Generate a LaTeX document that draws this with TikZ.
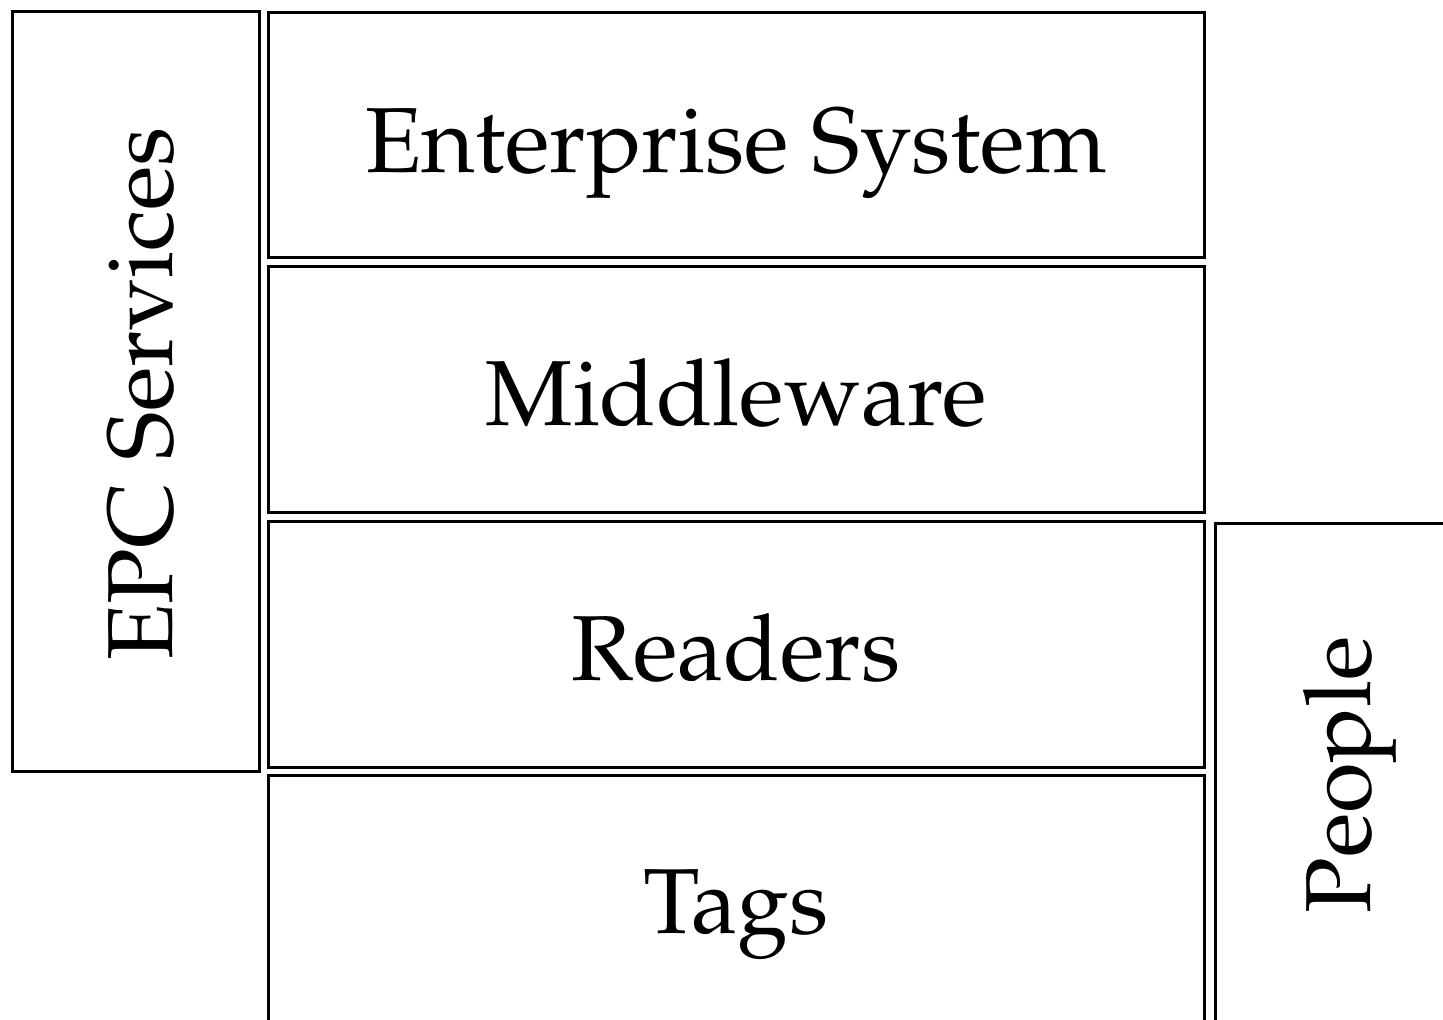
\documentclass[tikz,border=0pt]{standalone}
\usepackage[T1]{fontenc}
\usepackage{mathpazo}
\tikzset{
  layer/.style={draw=black, line width=1.5pt, inner sep=0pt, outer sep=0pt, anchor=north west},
  lbl/.style={inner sep=0pt, font=\fontsize{46.2}{55}\selectfont, anchor=base},
}
\begin{document}
\begin{tikzpicture}[x=0.5pt,y=-0.5pt]
\useasboundingbox (0,0) rectangle (1443,1019);
\clip (0,0) rectangle (1443,1019);
\node[layer, minimum width=247*0.5pt, minimum height=760*0.5pt] (epc) at (12.5,11) {};
\node[layer, minimum width=936*0.5pt, minimum height=245*0.5pt] (ent) at (268.5,12.5) {};
\node[layer, minimum width=936*0.5pt, minimum height=246*0.5pt] (mid) at (268.5,266) {};
\node[layer, minimum width=936*0.5pt, minimum height=246*0.5pt] (rea) at (268.5,521) {};
\node[layer, minimum width=936*0.5pt, minimum height=300*0.5pt] (tag) at (268.5,775) {};
\node[layer, minimum width=300*0.5pt, minimum height=550*0.5pt] (peo) at (1215,523.5) {};
\node[lbl] (tent) at (736,172) {Enterprise System};
\node[lbl] (tmid) at (736,425) {Middleware};
\node[lbl] (trea) at (736,680) {Readers};
\node[lbl] (ttag) at (736,933) {Tags};
\node[lbl, rotate=90] (tepc) at (172,394) {EPC Services};
\node[lbl, rotate=90] (tpeo) at (1370,775) {People};
\end{tikzpicture}
\end{document}
